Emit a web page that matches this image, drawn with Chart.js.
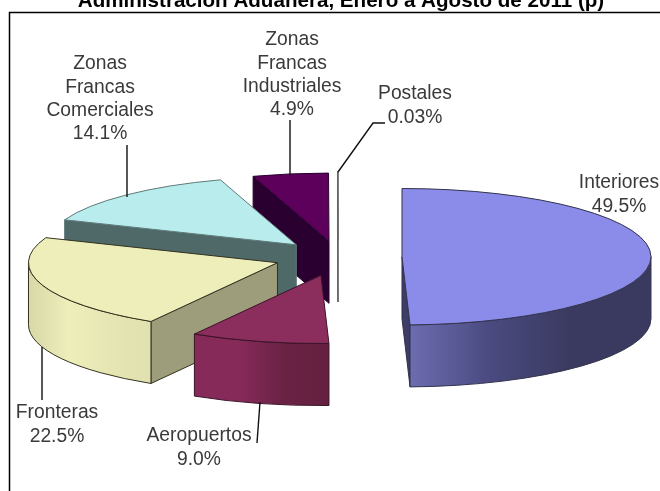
<!DOCTYPE html>
<html><head><meta charset="utf-8">
<style>html,body{margin:0;padding:0;background:#fff}canvas{display:block;filter:blur(.4px)}</style>
<script src="https://cdn.jsdelivr.net/npm/chart.js@4"></script>
</head><body><canvas id="c" width="660" height="491"></canvas>
<script>
const titleText = 'Administración Aduanera, Enero a Agosto de 2011 (p)';
const categories = ['Interiores','Aeropuertos','Fronteras','Zonas Francas Comerciales','Zonas Francas Industriales','Postales'];
const values = [49.5, 9.0, 22.5, 14.1, 4.9, 0.03];
const valueLabels = ['49.5%','9.0%','22.5%','14.1%','4.9%','0.03%'];

const topColors = ['#8b8bea','#8b2d5d','#eeeebb','#b9ecec','#5c005c','#888888'];
const radialColors = ['#3c3e68','#5a1c3c','#9d9d7c','#4f6868','#2a0030','#777777'];
const curveStops = [
  ['#6c6cb0','#4a4a80','#3a3a60','#3a3a60'],
  ['#862a5a','#862a5a','#6a2243','#642040'],
  ['#d8d8a8','#eeeebb','#e6e6b4','#e0e0b0'],
  ['#4f6868','#4f6868','#4f6868','#4f6868'],
  ['#2a0030','#2a0030','#2a0030','#2a0030'],
  ['#777777','#777777','#777777','#777777']
];
const outlineColors = ['#33334d','#3a1428','#33331f','#5f7a7a','#2a0030','#666666'];
const explode = [64, 69, 64, 61, 58, 62];
const paintOrder = [4, 5, 3, 2, 1, 0];
const SQUASH = 0.274, DEPTH = 62, RADIUS = 249, SHIFT_X = -3;

const labelLayout = [
  {x:619, y:183, lines:['Interiores']},
  {x:199, y:436, lines:['Aeropuertos']},
  {x:57,  y:413, lines:['Fronteras']},
  {x:100, y:64,  lines:['Zonas','Francas','Comerciales']},
  {x:292, y:40,  lines:['Zonas','Francas','Industriales']},
  {x:415, y:94,  lines:['Postales']}
];
const leaders = [
  [[127,145],[127,197]],
  [[290,120],[290,175]],
  [[338,172],[373,123],[385,123]],
  [[42,347],[42,400]],
  [[260,402],[257,443]]
];

const pie3d = {
  id:'pie3d',
  beforeDatasetDraw(chart, args){
    const ctx = chart.ctx, arcs = chart.getDatasetMeta(args.index).data;
    paintOrder.forEach(i=>{
      const p = arcs[i].getProps(['x','y','startAngle','endAngle','outerRadius'], true);
      const mid = (p.startAngle+p.endAngle)/2, r = p.outerRadius;
      const cx = p.x + SHIFT_X + Math.cos(mid)*explode[i];
      const cy = p.y + Math.sin(mid)*explode[i]*SQUASH;
      const pt = a=>[cx+Math.cos(a)*r, cy+Math.sin(a)*r*SQUASH];
      const quad = a=>{
        const q = pt(a);
        ctx.beginPath(); ctx.moveTo(cx,cy); ctx.lineTo(q[0],q[1]);
        ctx.lineTo(q[0],q[1]+DEPTH); ctx.lineTo(cx,cy+DEPTH); ctx.closePath();
        ctx.fillStyle = radialColors[i]; ctx.fill();
        ctx.strokeStyle = outlineColors[i]; ctx.lineWidth = 1; ctx.stroke();
      };
      if (-Math.cos(p.startAngle) > 0) quad(p.startAngle);
      if (Math.cos(p.endAngle) > 0) quad(p.endAngle);
      // curved rim: only the part facing the viewer
      const s = Math.max(p.startAngle, 0), e = Math.min(p.endAngle, Math.PI);
      if (e > s) {
        const a = pt(s), b = pt(e);
        const g = ctx.createLinearGradient(Math.min(a[0],b[0]),0,Math.max(a[0],b[0]),0);
        curveStops[i].forEach((c,k)=>g.addColorStop(k/3, c));
        ctx.beginPath();
        ctx.ellipse(cx,cy,r,r*SQUASH,0,s,e,false);
        ctx.lineTo(b[0],b[1]+DEPTH);
        ctx.ellipse(cx,cy+DEPTH,r,r*SQUASH,0,e,s,true);
        ctx.closePath();
        ctx.fillStyle = g; ctx.fill();
        ctx.strokeStyle = outlineColors[i]; ctx.lineWidth = 1; ctx.stroke();
      }
      // top face: the library's own arc element
      ctx.save();
      ctx.translate(cx,cy); ctx.scale(1,SQUASH); ctx.translate(-p.x,-p.y);
      arcs[i].draw(ctx);
      ctx.restore();
      ctx.beginPath(); ctx.moveTo(cx,cy);
      ctx.ellipse(cx,cy,r,r*SQUASH,0,p.startAngle,p.endAngle,false);
      ctx.closePath();
      ctx.strokeStyle = outlineColors[i]; ctx.lineWidth = 1; ctx.stroke();
    });
    return false;
  },
  afterDraw(chart){
    const ctx = chart.ctx;
    ctx.save();
    ctx.strokeStyle = '#000'; ctx.lineWidth = 1.5;
    ctx.beginPath(); ctx.moveTo(9.5,491); ctx.lineTo(9.5,12.5); ctx.lineTo(660,12.5); ctx.stroke();
    ctx.strokeStyle = '#111'; ctx.lineWidth = 1.4;
    leaders.forEach(l=>{ ctx.beginPath(); l.forEach((q,k)=>k?ctx.lineTo(q[0],q[1]):ctx.moveTo(q[0],q[1])); ctx.stroke(); });
    ctx.fillStyle = '#3a3a3a';
    ctx.font = '19.3px "Liberation Sans", Arial, sans-serif';
    ctx.textAlign = 'center'; ctx.textBaseline = 'middle';
    labelLayout.forEach((l,i)=>{
      const rows = l.lines.concat(valueLabels[i]);
      rows.forEach((t,k)=>ctx.fillText(t, l.x, l.y + k*23.2));
    });
    ctx.restore();
  }
};

new Chart(document.getElementById('c'),{
  type:'pie',
  data:{labels:categories,datasets:[{data:values,backgroundColor:topColors,borderWidth:0,radius:RADIUS}]},
  plugins:[pie3d],
  options:{
    responsive:false,animation:false,
    layout:{padding:{left:22,right:0,top:0,bottom:0}},
    plugins:{
      legend:{display:false},tooltip:{enabled:false},
      title:{display:true,text:titleText,color:'#000',align:'center',
        font:{family:'"Liberation Sans", Arial, sans-serif',size:20.6,weight:'bold',lineHeight:1.2},
        padding:{top:-11.5,bottom:9.8}}
    }
  }
});
</script></body></html>
